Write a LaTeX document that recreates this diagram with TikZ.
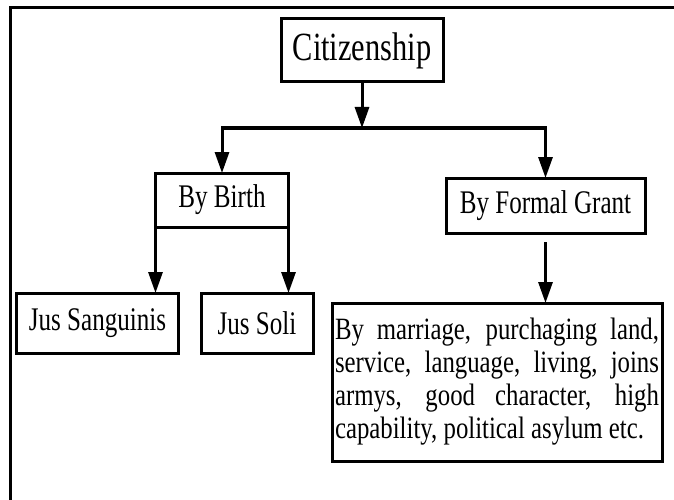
\documentclass[tikz,border=0pt]{standalone}
\usepackage{fontspec}
\setmainfont{Liberation Serif}[FakeStretch=0.76]
\newfontfamily\bodyfont{Liberation Serif}[FakeStretch=0.8]
\usetikzlibrary{arrows.meta, positioning}

\begin{document}
\begin{tikzpicture}[x=1pt, y=-1pt]
		
		\tikzset{label box/.style={
				draw,
				line width=3pt,
				outer sep=0pt,
				inner sep=0pt,
				minimum width=#1,
				font=\fontsize{33}{36}\selectfont
			},
			label box/.default=150pt,
			flow arrow/.style={
				line width=3pt,
				-{Triangle[length=21pt, width=14pt]}
			}
		}
		
		\useasboundingbox (0,0) rectangle (674,500);
		\draw[line width=3pt] (10,500) |- (674,8);
		
		\node[label box=162pt, minimum height=63pt, font=\fontsize{40}{44}\selectfont] (cit) at (362,50.5) {Citizenship};
		\node[label box=133pt, minimum height=54pt] (birth) at (222,200) {By Birth};
		\node[label box=199pt, minimum height=55pt] (grant) at (545.5,205.5) {By Formal Grant};
		\node[label box=162pt, minimum height=60pt] (sang) at (97.5,323) {Jus Sanguinis};
		\node[label box=112pt, minimum height=60pt] (soli) at (257,323) {Jus Soli};
		\node[label box=330pt, minimum height=158pt, text width=324pt, align=justify,
			font=\bodyfont\fontsize{31}{33}\selectfont] (detail) at (497,382)
			{By marriage, purchaging land,\linebreak service, language, living, joins\linebreak armys, good character, high\linebreak capability, political asylum etc.};
		
		\coordinate (split) at (362,128);
		\draw[flow arrow] (cit.south) -- (split);
		\draw[flow arrow] (split) -| (birth.north);
		\draw[flow arrow] (split) -| (grant.north);
		\draw[flow arrow] (birth.south west) -- (birth.south west |- sang.north);
		\draw[flow arrow] (birth.south east) -- (birth.south east |- soli.north);
		\draw[flow arrow, shorten <=9pt] (grant.south) -- (grant.south |- detail.north);
		
\end{tikzpicture}
\end{document}
